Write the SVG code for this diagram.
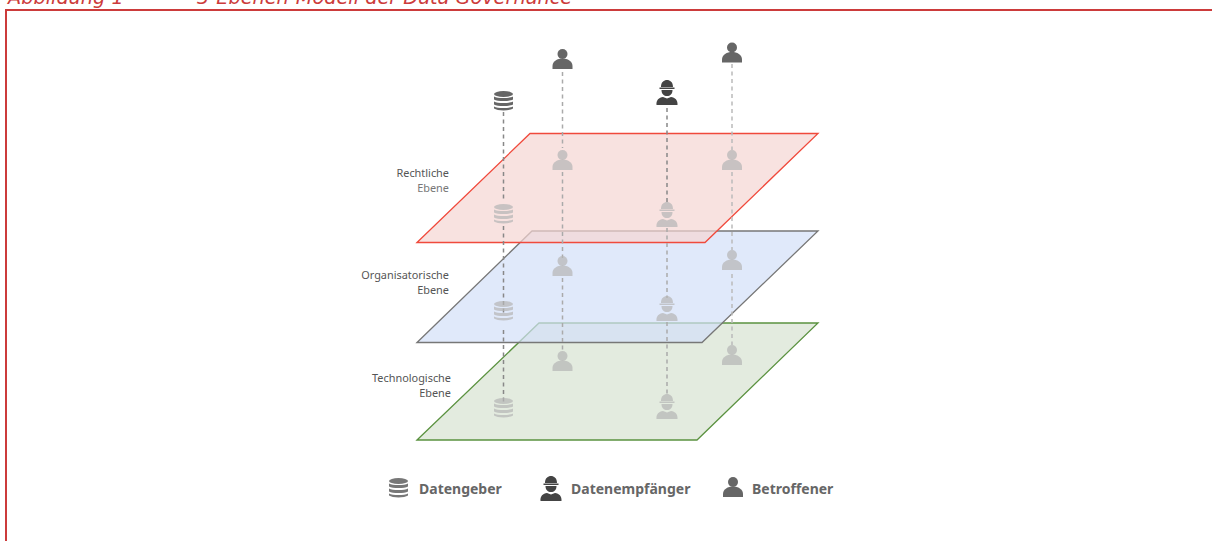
<svg xmlns="http://www.w3.org/2000/svg" width="1212" height="541" viewBox="0 0 1212 541">
<style>
.cap{font:italic 19.300px "DejaVu Sans",sans-serif;fill:#cc3b3b}
.lab{font:10.900px "Noto Sans","Liberation Sans",sans-serif;fill:#555;text-anchor:end}
.lab2{fill:#777}
.leg{font:bold 14px "Noto Sans","Liberation Sans",sans-serif;fill:#666}
.v{stroke-width:1.500;stroke-dasharray:4 3.500;fill:none}
</style>
<defs>
<g id="person"><circle cx="0" cy="-6" r="5"/><path d="M-10 9V6C-10 1-5-1.500 0-1.500S10 1 10 6V9Z"/></g>
<g id="db"><ellipse cx="0" cy="-7" rx="9.500" ry="3"/><path d="M-9.500-4.500C-6-2.500 6-2.500 9.500-4.500V-1.500C6 .5-6 .5-9.500-1.500ZM-9.500 .5C-6 2.500 6 2.500 9.500 .5V3.500C6 5.500-6 5.500-9.500 3.500ZM-9.500 5.500C-6 7.500 6 7.500 9.500 5.500V7.500C6 10-6 10-9.500 7.500Z"/></g>
<g id="worker"><path d="M-6-8C-6-13-3-15 0-15S6-13 6-8ZM-7.500-7.500H7.500V-6H-7.500Z"/><path d="M-5.500-5H5.500C5.500-1 3 1 0 1S-5.500-1-5.500-5Z"/><path d="M-10.500 10C-11 5-8 2.500-4 2L0 3.500 4 2C8 2.500 11 5 10.500 10Z"/></g>
</defs>
<rect x="6" y="10" width="1212" height="600" fill="#fff" stroke="#cc3b3b" stroke-width="2"/>
<text class="cap" x="8" y="4">Abbildung 1</text>
<text class="cap" x="197" y="4">3-Ebenen-Modell der Data Governance</text>
<g id="plane-tech"><path d="M417 440L539 323H818L697 440Z" fill="#d7e2d1" fill-opacity=".7" stroke="#5b9240" stroke-width="1.300"/></g>
<g id="plane-org"><path d="M417 342.500L532 231H818L702 342.500Z" fill="#d3e0f8" fill-opacity=".7" stroke="#777" stroke-width="1.300"/></g>
<g id="plane-legal"><path d="M417 242.500L530 133.500H818L705 242.500Z" fill="#f5d6d3" fill-opacity=".7" stroke="#f04a3c" stroke-width="1.300"/></g>
<g id="connectors">
<path class="v" stroke="#888" d="M503.500 112V202M503.500 226V315M503.500 330V405"/>
<path class="v" stroke="#aaa" d="M562.500 72V148M562.500 172V258M562.500 278V350"/>
<path class="v" stroke="#888" d="M667 108V205"/>
<path class="v" stroke="#aaa" d="M667 228V298M667 322V395"/>
<path class="v" stroke="#bbb" d="M732 64V150M732 172V250M732 274V345"/>
</g>
<g id="node-db" fill="#666"><use href="#db" x="503.500" y="101"/></g>
<g id="node-person1" fill="#666"><use href="#person" x="562.500" y="60"/></g>
<g id="node-worker" fill="#444"><use href="#worker" x="667" y="95"/></g>
<g id="node-person2" fill="#666"><use href="#person" x="732" y="53.500"/></g>
<g id="ghosts" fill="#b5b5b5" fill-opacity=".72">
<use href="#db" x="503.500" y="214"/><use href="#db" x="503.500" y="311"/><use href="#db" x="503.500" y="408"/>
<use href="#person" x="562.500" y="161"/><use href="#person" x="562.500" y="267"/><use href="#person" x="562.500" y="362"/>
<use href="#worker" x="667" y="217"/><use href="#worker" x="667" y="311"/><use href="#worker" x="667" y="409"/>
<use href="#person" x="732" y="161"/><use href="#person" x="732" y="261"/><use href="#person" x="732" y="356"/>
</g>
<g id="label-legal"><text class="lab" x="449" y="177">Rechtliche</text><text class="lab lab2" x="449" y="192">Ebene</text></g>
<g id="label-org"><text class="lab" x="449" y="279">Organisatorische</text><text class="lab" x="449" y="294">Ebene</text></g>
<g id="label-tech"><text class="lab" x="451" y="382">Technologische</text><text class="lab" x="451" y="396.500">Ebene</text></g>
<g id="legend-db" fill="#777"><use href="#db" x="398.500" y="488"/><text class="leg" x="419" y="494">Datengeber</text></g>
<g id="legend-worker" fill="#444"><use href="#worker" x="551" y="491"/><text class="leg" x="571" y="494">Datenempfänger</text></g>
<g id="legend-person" fill="#666"><use href="#person" x="733" y="488"/><text class="leg" x="752" y="494">Betroffener</text></g>
</svg>
